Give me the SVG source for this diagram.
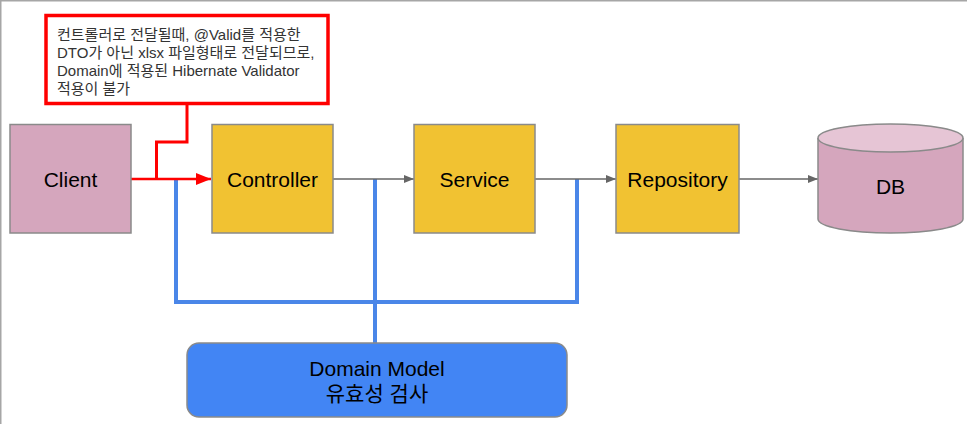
<svg xmlns="http://www.w3.org/2000/svg" width="969" height="424" viewBox="0 0 969 424">
<defs>
<style>
.box{stroke:#8a8a8a;stroke-width:1.5}
.lbl{font-family:"Liberation Sans",Arial,"Noto Sans CJK KR",sans-serif;font-size:21px;fill:#000;text-anchor:middle}
.note{font-family:"Liberation Sans",Arial,"Noto Sans CJK KR",sans-serif;font-size:15px;fill:#333}
.gray{stroke:#666;stroke-width:1.3;fill:none}
.blue{stroke:#4a86e8;stroke-width:4;fill:none}
.red{stroke:#f00;stroke-width:3;fill:none}
</style>
<marker id="ag" markerWidth="10" markerHeight="8" refX="10" refY="4" orient="auto" markerUnits="userSpaceOnUse"><path d="M0,0 L10,4 L0,8 Z" fill="#666"/></marker>
<marker id="ar" markerWidth="15" markerHeight="12" refX="15" refY="6" orient="auto" markerUnits="userSpaceOnUse"><path d="M0,0 L15,6 L0,12 Z" fill="#f00"/></marker>
</defs>
<rect width="969" height="424" fill="#fff"/>
<path d="M0.5,424 V0.5 H967" stroke="#a6a6a6" stroke-width="2" fill="none"/>
<g id="connectors">
<path class="blue" d="M176,179 V302 H577 V179"/>
<path class="blue" d="M375,179 V343"/>
<path class="red" d="M187,103 V142 H156.5 V179"/>
<path d="M131,179 H211" stroke="#f00" stroke-width="2.5" marker-end="url(#ar)"/>
<path class="gray" d="M333,179 H414" marker-end="url(#ag)"/>
<path class="gray" d="M535,179 H616" marker-end="url(#ag)"/>
<path class="gray" d="M739,179 H818" marker-end="url(#ag)"/>
</g>
<g id="note">
<rect x="46" y="15.5" width="282" height="88" fill="#fff" stroke="#f00" stroke-width="3.5"/>
<text class="note" x="57" y="40">컨트롤러로 전달될때, @Valid를 적용한</text>
<text class="note" x="57" y="58">DTO가 아닌 xlsx 파일형태로 전달되므로,</text>
<text class="note" x="57" y="76">Domain에 적용된 Hibernate Validator</text>
<text class="note" x="57" y="94">적용이 불가</text>
</g>
<g id="client">
<rect class="box" x="10" y="124.5" width="121" height="108.5" fill="#d5a6bd"/>
<text class="lbl" x="70.5" y="186.5">Client</text>
</g>
<g id="controller">
<rect class="box" x="212" y="124.5" width="121" height="108.5" fill="#f1c232"/>
<text class="lbl" x="272.5" y="186.5">Controller</text>
</g>
<g id="service">
<rect class="box" x="414" y="124.5" width="121" height="108.5" fill="#f1c232"/>
<text class="lbl" x="474.5" y="186.5">Service</text>
</g>
<g id="repository">
<rect class="box" x="616" y="124.5" width="123" height="108.5" fill="#f1c232"/>
<text class="lbl" x="677.5" y="186.5">Repository</text>
</g>
<g id="db">
<path class="box" d="M818,138 V219 A72.5,14 0 0 0 963,219 V138" fill="#d5a6bd"/>
<ellipse class="box" cx="890.5" cy="138" rx="72.5" ry="14" fill="#e6c5d5"/>
<text class="lbl" x="890.5" y="193.5">DB</text>
</g>
<g id="domain">
<rect class="box" x="187" y="343" width="380" height="74" rx="12" fill="#4285f4"/>
<text class="lbl" x="377" y="376">Domain Model</text>
<text class="lbl" x="377" y="401">유효성 검사</text>
</g>
</svg>
